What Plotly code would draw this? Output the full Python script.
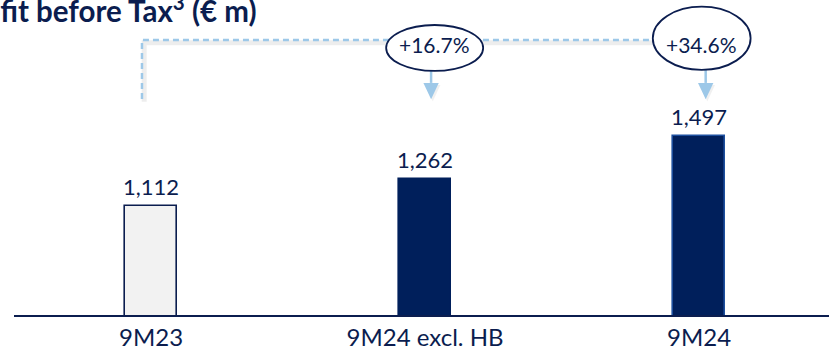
import plotly.graph_objects as go

# Profit before tax, € m
categories = ["9M23", "9M24 excl. HB", "9M24"]
values = [1112, 1262, 1497]
growth_labels = ["+16.7%", "+34.6%"]   # vs 9M23, shown over bars 2 and 3

NAVY = "#0b1d4f"
BAR_NAVY = "#001f5b"
LIGHT_BLUE = "#9dc8e8"
FONT = "Lato"

x_pos = list(range(len(categories)))
fills = ["#f2f2f2", BAR_NAVY, BAR_NAVY]
edges = [NAVY, BAR_NAVY, "#1d4f9e"]

fig = go.Figure()
fig.add_trace(go.Bar(
    x=x_pos, y=values, width=0.19,
    marker=dict(color=fills, line=dict(color=edges, width=1.6)),
    hoverinfo="skip", showlegend=False,
))

annotations = []
# value labels above bars
for xi, v in zip(x_pos, values):
    annotations.append(dict(
        x=xi, y=v, xref="x", yref="y", text=f"{v:,}", showarrow=False,
        yanchor="bottom", yshift=4,
        font=dict(family=FONT, size=22, color=NAVY),
    ))

# bracket geometry (data units)
Y_MIN, Y_MAX = 508, 2248
bracket_y = 2027
bracket_foot = 1701
left_x = -0.033

shapes = []
dash_line = dict(color=LIGHT_BLUE, width=2.5, dash="6px,4px")
shadow_line = dict(color="rgba(0,0,0,0.07)", width=5)

# soft shadow under the bracket
shapes.append(dict(type="path", xref="x", yref="y",
                   path=f"M {left_x+0.008},{bracket_foot-15} L {left_x+0.008},{bracket_y-15} L 1.83,{bracket_y-15}",
                   line=shadow_line, layer="below"))
shapes.append(dict(type="path", xref="x", yref="y",
                   path=f"M {left_x},{bracket_foot} L {left_x},{bracket_y} L 1.84,{bracket_y}",
                   line=dash_line))

ellipses = [
    dict(x0=0.858, x1=1.212, y0=1856, y1=2110, ax=1.022),
    dict(x0=1.831, x1=2.188, y0=1862, y1=2211, ax=2.024),
]
for e, lbl in zip(ellipses, growth_labels):
    ax = e["ax"]
    stem_end = 1790
    tip = 1700
    half = 0.028
    # arrow shadow
    shapes.append(dict(type="path", xref="x", yref="y",
                       path=f"M {ax-half+0.006},{stem_end-12} L {ax+half+0.006},{stem_end-12} L {ax+0.006},{tip-12} Z",
                       fillcolor="rgba(0,0,0,0.06)", line=dict(width=0), layer="below"))
    shapes.append(dict(type="line", xref="x", yref="y", x0=ax, x1=ax,
                       y0=e["y0"], y1=stem_end, line=dict(color=LIGHT_BLUE, width=2.5)))
    shapes.append(dict(type="path", xref="x", yref="y",
                       path=f"M {ax-half},{stem_end} L {ax+half},{stem_end} L {ax},{tip} Z",
                       fillcolor=LIGHT_BLUE, line=dict(width=0)))
    shapes.append(dict(type="circle", xref="x", yref="y",
                       x0=e["x0"], x1=e["x1"], y0=e["y0"], y1=e["y1"],
                       fillcolor="white", line=dict(color=NAVY, width=1.8)))
    annotations.append(dict(
        x=(e["x0"] + e["x1"]) / 2, y=2000, xref="x", yref="y", text=lbl,
        showarrow=False, font=dict(family=FONT, size=21, color=NAVY),
    ))

# chart title, placed in pixel terms relative to the plot area
plot_w = 829 - 14
plot_h = 350 - 35
annotations.append(dict(
    x=(259 - 14) / plot_w, y=(plot_h - 30) / plot_h, xref="paper", yref="paper",
    text="<b>Profit before Tax<sup>3</sup> (€ m)</b>",
    showarrow=False, xanchor="right", yanchor="bottom",
    font=dict(family=FONT, size=29.5, color=NAVY),
))

fig.update_layout(
    width=829, height=350,
    margin=dict(l=14, r=0, t=0, b=35),
    paper_bgcolor="white", plot_bgcolor="white",
    shapes=shapes, annotations=annotations,
    xaxis=dict(
        range=[-0.5, 2.474], tickvals=x_pos, ticktext=categories,
        showgrid=False, zeroline=False, showline=True, linecolor=NAVY, linewidth=1.8,
        ticks="", ticklabelstandoff=0, automargin=False,
        tickfont=dict(family=FONT, size=24, color=NAVY),
    ),
    yaxis=dict(range=[Y_MIN, Y_MAX], visible=False, showgrid=False, zeroline=False,
               automargin=False),
    bargap=0,
)

fig.write_html("out.html")
